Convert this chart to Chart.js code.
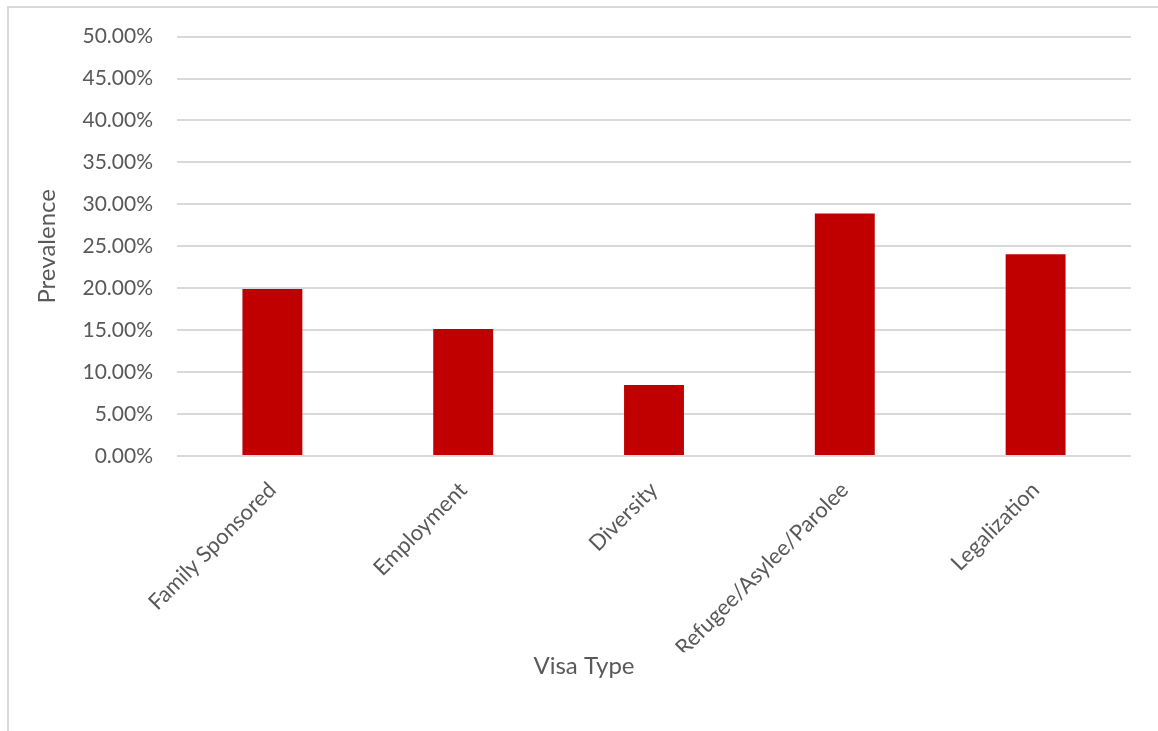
<!DOCTYPE html>
<html>
<head>
<meta charset="utf-8">
<script src="https://cdn.jsdelivr.net/npm/chart.js@4/dist/chart.umd.min.js"></script>
<style>
  html, body { margin: 0; padding: 0; background: #fff; }
  #wrap { position: relative; width: 1158px; height: 731px; }
  #frame { position: absolute; left: 7px; top: 6px; width: 1160px; height: 740px; border: 2px solid #d9d9d9; box-sizing: border-box; pointer-events: none; }
  canvas { position: absolute; left: 0; top: 0; }
</style>
</head>
<body>
<div id="wrap">
  <canvas id="c" width="1158" height="731"></canvas>
  <div id="frame"></div>
</div>
<script>
const categories = ["Family Sponsored", "Employment", "Diversity", "Refugee/Asylee/Parolee", "Legalization"];
const prevalence = [0.199, 0.1515, 0.0845, 0.289, 0.2405];
const yTicks = [0, 0.05, 0.10, 0.15, 0.20, 0.25, 0.30, 0.35, 0.40, 0.45, 0.50];
const xTitle = "Visa Type";
const yTitle = "Prevalence";

const FONT = "Lato, 'Liberation Sans', sans-serif";
const TXT = "#595959";

new Chart(document.getElementById("c"), {
  type: "bar",
  data: {
    labels: categories,
    datasets: [{
      data: prevalence,
      backgroundColor: "#c00000",
      borderWidth: 0,
      barPercentage: 0.314,
      categoryPercentage: 1.0
    }]
  },
  options: {
    responsive: false,
    animation: false,
    devicePixelRatio: 1,
    layout: { padding: { top: 36, right: 27, left: 37, bottom: 0 } },
    plugins: {
      legend: { display: false },
      tooltip: { enabled: false },
      title: {
        display: true,
        position: "bottom",
        text: xTitle,
        color: TXT,
        font: { family: FONT, size: 24, weight: "normal", lineHeight: 1.2 },
        padding: { top: 0, bottom: 50 }
      }
    },
    scales: {
      x: {
        grid: { display: false, drawTicks: false },
        border: { display: false },
        ticks: {
          color: TXT,
          font: { family: FONT, size: 22 },
          minRotation: 45,
          maxRotation: 45,
          padding: 21,
          autoSkip: false
        },
        afterFit: (s) => { s.height = 731 - 456 - 78.8; }
      },
      y: {
        min: 0,
        max: 0.5,
        afterBuildTicks: (s) => { s.ticks = yTicks.map(v => ({ value: v })); },
        grid: { color: "#d9d9d9", lineWidth: 2, drawTicks: false },
        border: { display: false },
        ticks: {
          color: TXT,
          font: { family: FONT, size: 21 },
          padding: 24,
          callback: (v) => (v * 100).toFixed(2) + "%"
        },
        title: {
          display: true,
          text: yTitle,
          color: TXT,
          font: { family: FONT, size: 24, lineHeight: 1.2 },
          padding: { top: -4, bottom: 0 }
        },
        afterFit: (s) => { s.width = 140; }
      }
    }
  }
});
</script>
</body>
</html>
